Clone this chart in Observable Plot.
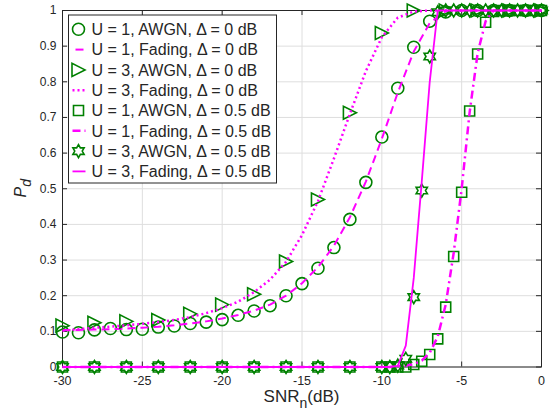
<!DOCTYPE html>
<html><head><meta charset="utf-8">
<script src="https://cdn.jsdelivr.net/npm/d3@7"></script>
<script src="https://cdn.jsdelivr.net/npm/@observablehq/plot@0.6"></script>
<style>
body{margin:0;background:#fff;}
#chart{width:553px;height:415px;}
</style></head><body><div id="chart"></div>
<script>
// ---------- tick labels & legend ----------
const xTicks = [-30, -25, -20, -15, -10, -5, 0];
const xTickLabels = ["-30", "-25", "-20", "-15", "-10", "-5", "0"];
const yTicks = [0, 0.1, 0.2, 0.3, 0.4, 0.5, 0.6, 0.7, 0.8, 0.9, 1];
const yTickLabels = ["0", "0.1", "0.2", "0.3", "0.4", "0.5", "0.6", "0.7", "0.8", "0.9", "1"];
const legendLabels = [
  "U = 1, AWGN, \u0394 = 0 dB",
  "U = 1, Fading, \u0394 = 0 dB",
  "U = 3, AWGN, \u0394 = 0 dB",
  "U = 3, Fading, \u0394 = 0 dB",
  "U = 1, AWGN, \u0394 = 0.5 dB",
  "U = 1, Fading, \u0394 = 0.5 dB",
  "U = 3, AWGN, \u0394 = 0.5 dB",
  "U = 3, Fading, \u0394 = 0.5 dB"
];

// ---------- series ----------
// U = 1, AWGN, Δ = 0 dB (circles)
const snrU1Awgn0 = [-30,-29,-28,-27,-26,-25,-24,-23,-22,-21,-20,-19,-18,-17,-16,-15,-14,-13,-12,-11,-10,-9,-8,-7,-6,-5,-4,-3,-2,-1,0];
const pdU1Awgn0  = [0.098,0.096,0.104,0.108,0.105,0.106,0.112,0.115,0.122,0.126,0.133,0.145,0.157,0.172,0.200,0.234,0.277,0.335,0.414,0.518,0.645,0.782,0.897,0.970,0.996,1,1,1,1,1,1];
// U = 1, Fading, Δ = 0 dB (dashed)
const snrU1Fad0 = [-30,-29,-28,-27,-26,-25,-24,-23,-22,-21,-20,-19,-18,-17,-16,-15,-14,-13,-12,-11,-10,-9,-8,-7,-6,-5,0];
const pdU1Fad0  = [0.104,0.104,0.105,0.106,0.108,0.110,0.113,0.117,0.122,0.128,0.136,0.146,0.158,0.175,0.200,0.235,0.280,0.340,0.420,0.520,0.640,0.770,0.885,0.965,0.998,1,1];
// U = 3, AWGN, Δ = 0 dB (triangles)
const snrU3Awgn0 = [-30,-28,-26,-24,-22,-20,-18,-16,-14,-12,-10,-8,-6,-4,-2,0];
const pdU3Awgn0  = [0.116,0.124,0.128,0.132,0.149,0.175,0.204,0.296,0.470,0.713,0.937,1,1,1,1,1];
// U = 3, Fading, Δ = 0 dB (dotted)
const snrU3Fad0 = [-30,-29,-28,-27,-26,-25,-24,-23,-22,-21,-20,-19,-18,-17,-16,-15,-14,-13,-12,-11,-10,-9,-8,-7,0];
const pdU3Fad0  = [0.102,0.106,0.110,0.113,0.117,0.121,0.126,0.132,0.140,0.151,0.165,0.183,0.210,0.245,0.295,0.370,0.465,0.585,0.710,0.830,0.925,0.980,0.997,1,1];
// U = 1, AWGN, Δ = 0.5 dB (squares)
const snrU1Awgn05 = [-30,-28,-26,-24,-22,-20,-18,-16,-14,-12,-10,-9.5,-9,-8.5,-8,-7.5,-7,-6.5,-6,-5.5,-5,-4.5,-4,-3.5,-3,-2.5,-2,-1.5,-1,-0.5,0];
const pdU1Awgn05  = [0,0,0,0,0,0,0,0,0,0,0,0,0,0,0.007,0.016,0.035,0.079,0.168,0.310,0.490,0.718,0.878,0.967,0.997,1,1,1,1,1,1];
// U = 1, Fading, Δ = 0.5 dB (dash-dot)
const snrU1Fad05 = [-30,-9.5,-9,-8.5,-8,-7.5,-7,-6.5,-6,-5.5,-5,-4.5,-4,-3.5,-3,0];
const pdU1Fad05  = [0,0,0.002,0.004,0.008,0.018,0.040,0.085,0.175,0.320,0.500,0.715,0.880,0.970,1,1];
// U = 3, AWGN, Δ = 0.5 dB (hexagrams)
const snrU3Awgn05 = [-30,-28,-26,-24,-22,-20,-18,-16,-14,-12,-10,-9.5,-9,-8.5,-8,-7.5,-7,-6.5,-6,-5.5,-5,-4.5,-4,-3.5,-3,-2.5,-2,-1.5,-1,-0.5,0];
const pdU3Awgn05  = [0,0,0,0,0,0,0,0,0,0,0,0,0.004,0.023,0.196,0.495,0.871,0.995,1,1,1,1,1,1,1,1,1,1,1,1,1];
// U = 3, Fading, Δ = 0.5 dB (solid)
const snrU3Fad05 = [-30,-9.5,-9,-8.5,-8,-7.5,-7,-6.5,0];
const pdU3Fad05  = [0,0,0.003,0.060,0.250,0.520,0.800,1,1];

// ---------- layout / style ----------
const W = 553, H = 415;
const mL = 62, mR = 12, mT = 10, mB = 48.5;
const plotW = W - mL - mR, plotH = H - mT - mB;
const green = "#008000", magenta = "#ff00ff", ink = "#262626";
const font = "'Liberation Sans', Arial, Helvetica, sans-serif";

const pts = (xs, ys) => xs.map((x, i) => ({x, y: ys[i]}));

function sym(fn) { return {draw(ctx, size) { fn(ctx, Math.sqrt(size / Math.PI)); }}; }
const symCircle = sym((c, r) => { c.moveTo(r, 0); c.arc(0, 0, r, 0, 2 * Math.PI); c.closePath(); });
const symTri = sym((c, r) => { c.moveTo(r, 0); c.lineTo(-r, -r); c.lineTo(-r, r); c.closePath(); });
const symSquare = sym((c, r) => { c.rect(-r, -r, 2 * r, 2 * r); });
const symHex = sym((c, r) => {
  const ri = r / Math.sqrt(3);
  for (let i = 0; i < 12; i++) {
    const a = -Math.PI / 2 + i * Math.PI / 6;
    const rr = i % 2 === 0 ? r : ri;
    const x = rr * Math.cos(a), y = rr * Math.sin(a);
    if (i) c.lineTo(x, y); else c.moveTo(x, y);
  }
  c.closePath();
});

const series = [
  {kind: "dot", data: pts(snrU1Awgn0, pdU1Awgn0), symbol: symCircle, r: 6},
  {kind: "line", data: pts(snrU1Fad0, pdU1Fad0), dash: "8,5", width: 2},
  {kind: "dot", data: pts(snrU3Awgn0, pdU3Awgn0), symbol: symTri, r: 6.5},
  {kind: "line", data: pts(snrU3Fad0, pdU3Fad0), dash: "2,3", width: 2.5},
  {kind: "dot", data: pts(snrU1Awgn05, pdU1Awgn05), symbol: symSquare, r: 5},
  {kind: "line", data: pts(snrU1Fad05, pdU1Fad05), dash: "8,4,2,4", width: 2.5},
  {kind: "dot", data: pts(snrU3Awgn05, pdU3Awgn05), symbol: symHex, r: 6.5},
  {kind: "line", data: pts(snrU3Fad05, pdU3Fad05), dash: null, width: 1.8}
];

const dataMarks = series.map(s => s.kind === "dot"
  ? Plot.dot(s.data, {x: "x", y: "y", symbol: s.symbol, r: s.r, stroke: green, strokeWidth: 1.6, fill: "none", clip: false})
  : Plot.line(s.data, {x: "x", y: "y", stroke: magenta, strokeWidth: s.width, strokeDasharray: s.dash, strokeLinecap: "butt", clip: false}));

const chart = Plot.plot({
  width: W, height: H,
  marginLeft: mL, marginRight: mR, marginTop: mT, marginBottom: mB,
  style: {fontFamily: font, fontSize: "12px", color: ink, background: "white", overflow: "visible"},
  x: {domain: [-30, 0]},
  y: {domain: [0, 1]},
  marks: [
    Plot.gridX(xTicks, {stroke: "#dedede", strokeOpacity: 1, strokeWidth: 1}),
    Plot.gridY(yTicks, {stroke: "#dedede", strokeOpacity: 1, strokeWidth: 1}),
    Plot.frame({stroke: ink, strokeWidth: 1}),
    Plot.ruleX(xTicks, {x: d => d, insetTop: plotH - 5, stroke: ink}),
    Plot.ruleX(xTicks, {x: d => d, insetBottom: plotH - 5, stroke: ink}),
    Plot.ruleY(yTicks, {y: d => d, insetRight: plotW - 5, stroke: ink}),
    Plot.ruleY(yTicks, {y: d => d, insetLeft: plotW - 5, stroke: ink}),
    Plot.axisX({ticks: xTicks, tickFormat: d => xTickLabels[xTicks.indexOf(d)], tickSize: 0, tickPadding: 9, label: null, fontSize: 12.5}),
    Plot.axisY({ticks: yTicks, tickFormat: d => yTickLabels[yTicks.indexOf(d)], tickSize: 0, tickPadding: 6, label: null, fontSize: 12}),
    ...dataMarks
  ]
});
document.getElementById("chart").appendChild(chart);

// ---------- axis titles ----------
const svg = d3.select(chart);
const xl = svg.append("text").attr("x", mL + plotW * 0.5).attr("y", 402)
  .attr("text-anchor", "middle").attr("font-family", font).attr("font-size", 17).attr("fill", ink);
xl.append("tspan").text("SNR");
xl.append("tspan").attr("dy", 6).attr("font-size", 14).text("n");
xl.append("tspan").attr("dy", -6).text("(dB)");

const yl = svg.append("text").attr("transform", `translate(26,${mT + plotH * 0.5}) rotate(-90)`)
  .attr("text-anchor", "middle").attr("font-family", font).attr("font-size", 16).attr("font-style", "italic").attr("fill", ink);
yl.append("tspan").text("P");
yl.append("tspan").attr("dy", 5).attr("font-size", 14).text("d");

// ---------- legend ----------
const lg = svg.append("g").attr("transform", "translate(68.5,15)");
const rowH = 20.3;
lg.append("rect").attr("width", 208).attr("height", 168).attr("fill", "white").attr("stroke", ink).attr("stroke-width", 1);
series.forEach((s, i) => {
  const cy = 14.3 + i * rowH;
  const g = lg.append("g").attr("transform", `translate(0,${cy})`);
  if (s.kind === "dot") {
    const p = d3.path();
    s.symbol.draw(p, s.r * s.r * Math.PI);
    g.append("path").attr("d", p.toString()).attr("transform", "translate(10,0)")
      .attr("fill", "none").attr("stroke", green).attr("stroke-width", 1.6);
  } else {
    g.append("line").attr("x1", 4).attr("x2", 17).attr("y1", 0).attr("y2", 0)
      .attr("stroke", magenta).attr("stroke-width", s.width)
      .attr("stroke-dasharray", s.dash).attr("stroke-dashoffset", s.dash === "8,5" ? -3 : 0);
  }
  g.append("text").attr("x", 23).attr("y", 0).attr("dy", "0.36em").attr("text-anchor", "start")
    .attr("font-family", font).attr("font-size", 16).attr("fill", ink).text(legendLabels[i]);
});
</script></body></html>
